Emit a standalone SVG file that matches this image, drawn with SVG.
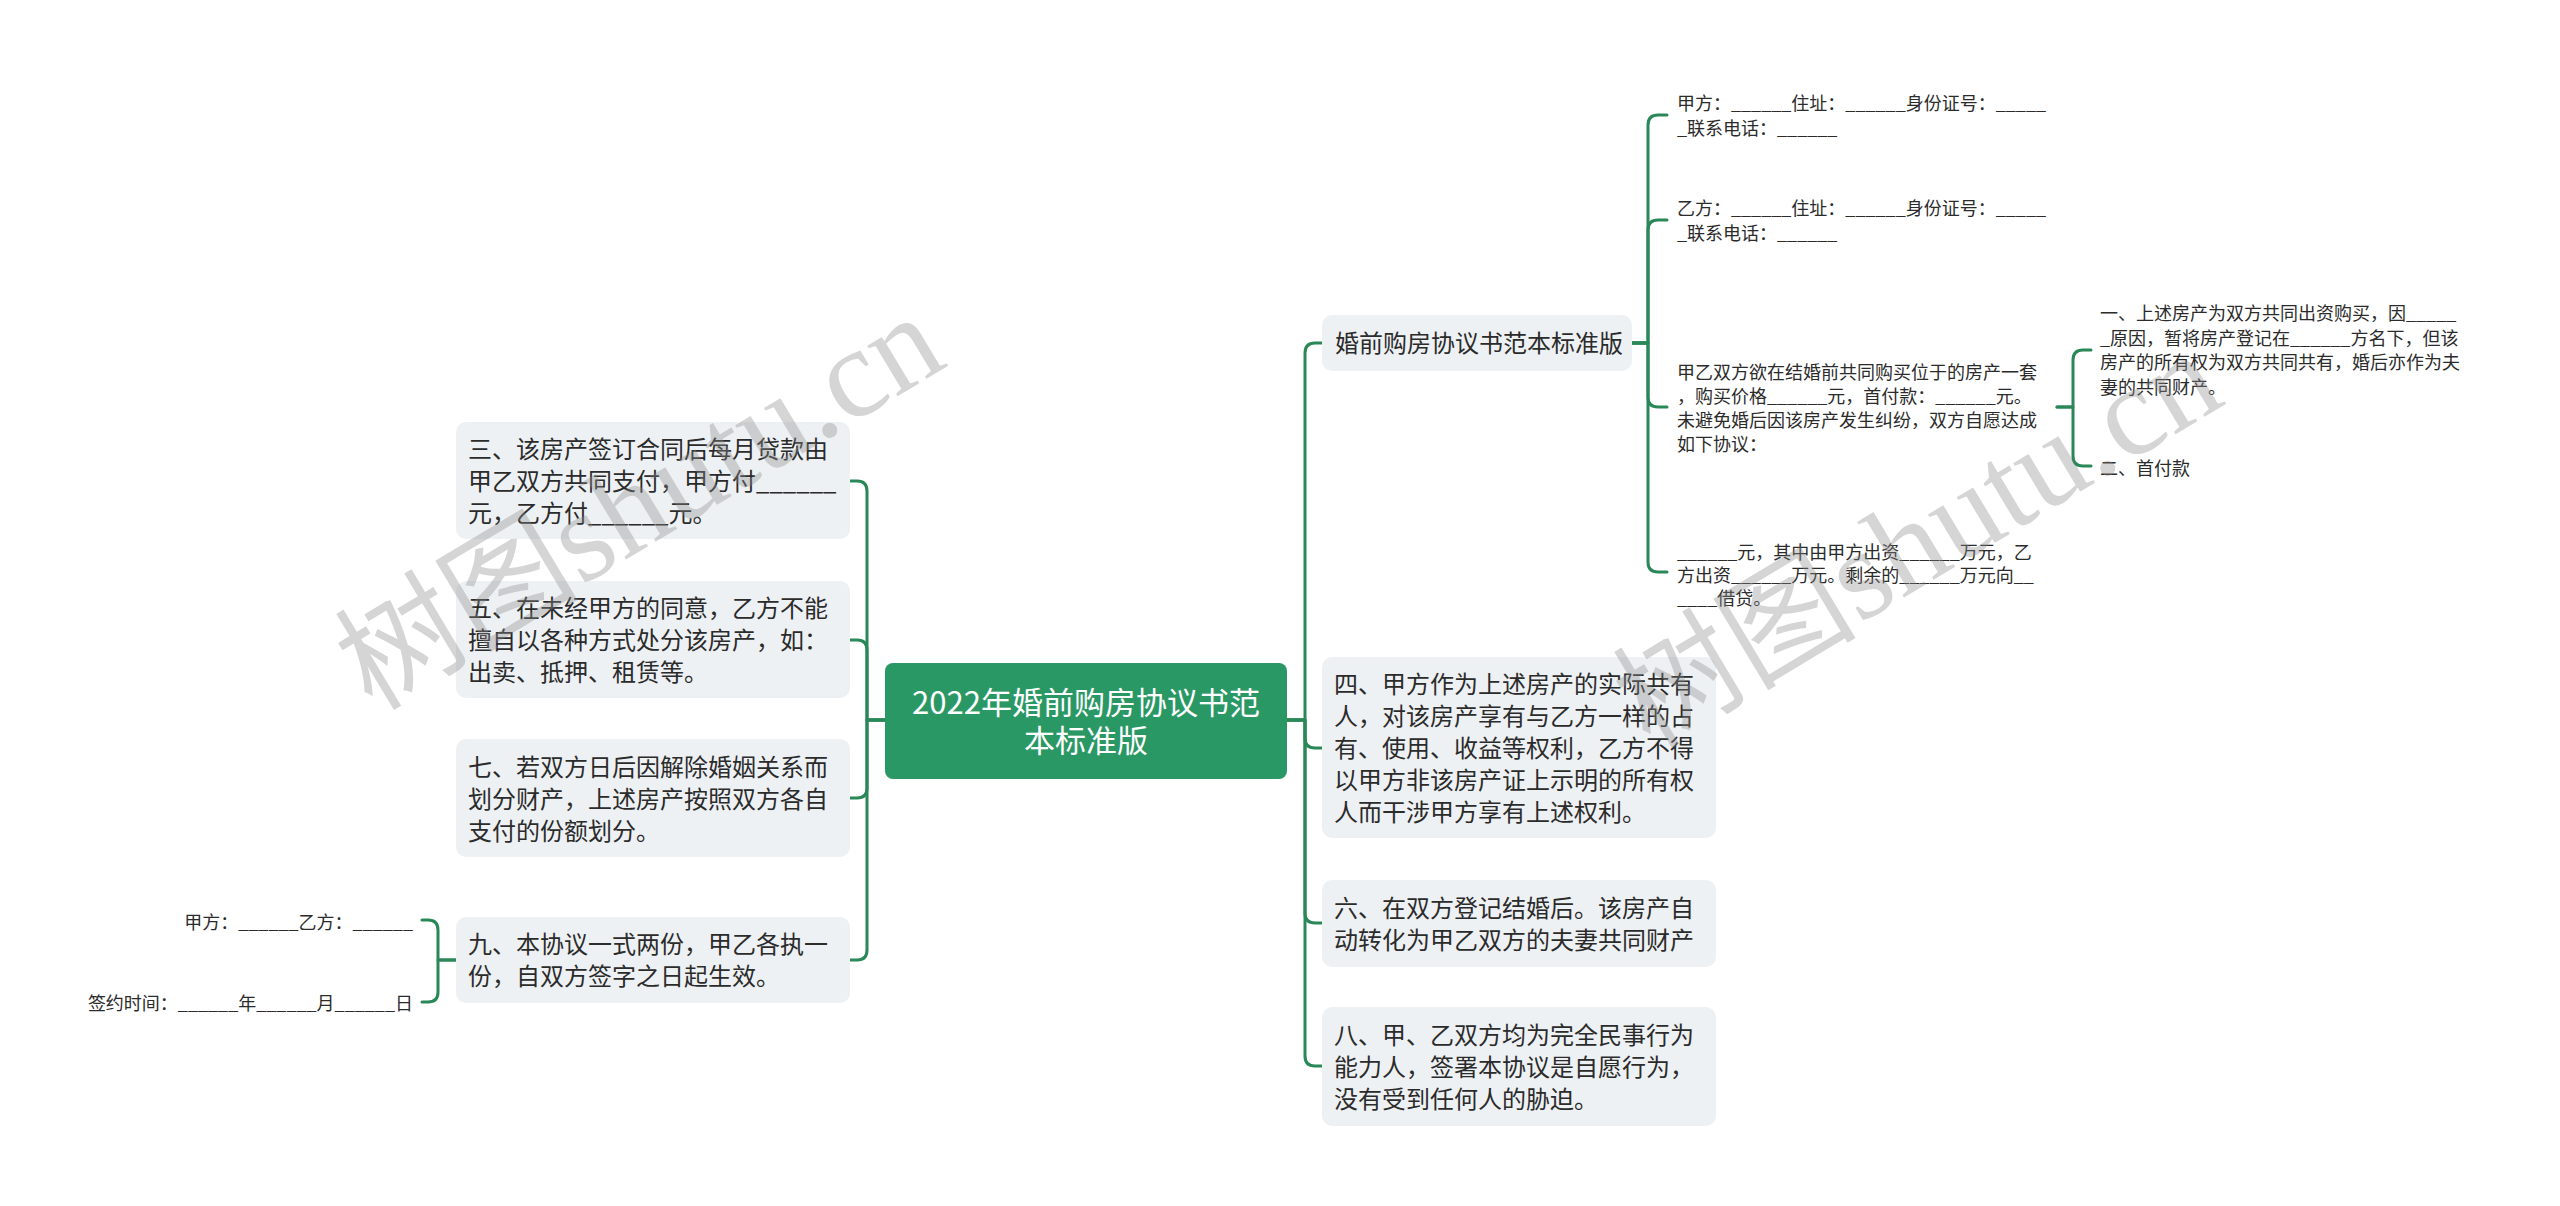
<svg xmlns="http://www.w3.org/2000/svg" width="2560" height="1206" viewBox="0 0 2560 1206">
<style>
.conn{fill:none;stroke:#2A8858;stroke-width:3;stroke-linejoin:round;stroke-linecap:round}
.box{fill:#EEF1F4}
.rootbox{fill:#2A9865}
.t{font-family:"Noto Sans CJK SC","Noto Sans",sans-serif;fill:#2B2B2B}
.t24{font-size:24px}
.t18{font-size:18px}
.rt{font-family:"Noto Sans CJK SC","Noto Sans",sans-serif;font-size:31px;fill:#FFFFFF;text-anchor:middle}
.wm{fill:#8A8A8A;fill-opacity:0.36}
.wmc{font-family:"Noto Sans CJK SC",sans-serif;font-size:122px}
.wml{font-family:"Liberation Serif",serif;font-size:128px}
</style>
<rect width="2560" height="1206" fill="#FFFFFF"/>
<g id="connectors">
<path class="conn" d="M885 720 H867 V491 Q867 481 857 481 H850"/>
<path class="conn" d="M885 720 H867 V650 Q867 640 857 640 H850"/>
<path class="conn" d="M885 720 H867 V788 Q867 798 857 798 H850"/>
<path class="conn" d="M885 720 H867 V950 Q867 960 857 960 H850"/>
<path class="conn" d="M1287 720 H1305 V353 Q1305 343 1315 343 H1322"/>
<path class="conn" d="M1287 720 H1305 V738 Q1305 748 1315 748 H1322"/>
<path class="conn" d="M1287 720 H1305 V913 Q1305 923 1315 923 H1322"/>
<path class="conn" d="M1287 720 H1305 V1056 Q1305 1066 1315 1066 H1322"/>
<path class="conn" d="M1632 343 H1648 V125 Q1648 115 1658 115 H1667"/>
<path class="conn" d="M1632 343 H1648 V230 Q1648 220 1658 220 H1667"/>
<path class="conn" d="M1632 343 H1648 V397 Q1648 407 1658 407 H1667"/>
<path class="conn" d="M1632 343 H1648 V562 Q1648 572 1658 572 H1667"/>
<path class="conn" d="M2057 407 H2073 V360 Q2073 350 2083 350 H2091"/>
<path class="conn" d="M2057 407 H2073 V456 Q2073 466 2083 466 H2091"/>
<path class="conn" d="M456 960 H438 V930 Q438 920 428 920 H422"/>
<path class="conn" d="M456 960 H438 V992 Q438 1002 428 1002 H422"/>
</g>
<g id="root">
<rect class="rootbox" x="885" y="663" width="402" height="116" rx="8"/>
<text class="rt" x="1086" y="714">2022年婚前购房协议书范</text>
<text class="rt" x="1086" y="752">本标准版</text>
</g>
<g id="n3">
<rect class="box" x="456" y="422" width="394" height="117" rx="10"/>
<text class="t t24" x="468" y="458">三、该房产签订合同后每月贷款由</text>
<text class="t t24" x="468" y="490">甲乙双方共同支付，甲方付______</text>
<text class="t t24" x="468" y="522">元，乙方付______元。</text>
</g>
<g id="n5">
<rect class="box" x="456" y="581" width="394" height="117" rx="10"/>
<text class="t t24" x="468" y="617">五、在未经甲方的同意，乙方不能</text>
<text class="t t24" x="468" y="649">擅自以各种方式处分该房产，如：</text>
<text class="t t24" x="468" y="681">出卖、抵押、租赁等。</text>
</g>
<g id="n7">
<rect class="box" x="456" y="739" width="394" height="118" rx="10"/>
<text class="t t24" x="468" y="776">七、若双方日后因解除婚姻关系而</text>
<text class="t t24" x="468" y="808">划分财产，上述房产按照双方各自</text>
<text class="t t24" x="468" y="840">支付的份额划分。</text>
</g>
<g id="n9">
<rect class="box" x="456" y="917" width="394" height="86" rx="10"/>
<text class="t t24" x="468" y="953">九、本协议一式两份，甲乙各执一</text>
<text class="t t24" x="468" y="985">份，自双方签字之日起生效。</text>
</g>
<g id="n9a">
<text class="t t18" x="413" y="929" text-anchor="end">甲方：______乙方：______</text>
</g>
<g id="n9b">
<text class="t t18" x="413" y="1010" text-anchor="end">签约时间：______年______月______日</text>
</g>
<g id="n1">
<rect class="box" x="1322" y="315" width="310" height="56" rx="10"/>
<text class="t t24" x="1335" y="352">婚前购房协议书范本标准版</text>
</g>
<g id="n1a">
<text class="t t18" x="1677" y="110">甲方：______住址：______身份证号：_____</text>
<text class="t t18" x="1677" y="135">_联系电话：______</text>
</g>
<g id="n1b">
<text class="t t18" x="1677" y="215">乙方：______住址：______身份证号：_____</text>
<text class="t t18" x="1677" y="240">_联系电话：______</text>
</g>
<g id="n1c">
<text class="t t18" x="1677" y="379">甲乙双方欲在结婚前共同购买位于的房产一套</text>
<text class="t t18" x="1677" y="403">，购买价格______元，首付款：______元。</text>
<text class="t t18" x="1677" y="427">未避免婚后因该房产发生纠纷，双方自愿达成</text>
<text class="t t18" x="1677" y="451">如下协议：</text>
</g>
<g id="n1c1">
<text class="t t18" x="2100" y="320">一、上述房产为双方共同出资购买，因_____</text>
<text class="t t18" x="2100" y="345">_原因，暂将房产登记在______方名下，但该</text>
<text class="t t18" x="2100" y="369">房产的所有权为双方共同共有，婚后亦作为夫</text>
<text class="t t18" x="2100" y="394">妻的共同财产。</text>
</g>
<g id="n1c2">
<text class="t t18" x="2100" y="475">二、首付款</text>
</g>
<g id="n1d">
<text class="t t18" x="1677" y="559">______元，其中由甲方出资______万元，乙</text>
<text class="t t18" x="1677" y="582">方出资______万元。剩余的______万元向__</text>
<text class="t t18" x="1677" y="605">____借贷。</text>
</g>
<g id="n4">
<rect class="box" x="1322" y="657" width="394" height="181" rx="10"/>
<text class="t t24" x="1334" y="693">四、甲方作为上述房产的实际共有</text>
<text class="t t24" x="1334" y="725">人，对该房产享有与乙方一样的占</text>
<text class="t t24" x="1334" y="757">有、使用、收益等权利，乙方不得</text>
<text class="t t24" x="1334" y="789">以甲方非该房产证上示明的所有权</text>
<text class="t t24" x="1334" y="821">人而干涉甲方享有上述权利。</text>
</g>
<g id="n6">
<rect class="box" x="1322" y="880" width="394" height="87" rx="10"/>
<text class="t t24" x="1334" y="917">六、在双方登记结婚后。该房产自</text>
<text class="t t24" x="1334" y="949">动转化为甲乙双方的夫妻共同财产</text>
</g>
<g id="n8">
<rect class="box" x="1322" y="1007" width="394" height="119" rx="10"/>
<text class="t t24" x="1334" y="1044">八、甲、乙双方均为完全民事行为</text>
<text class="t t24" x="1334" y="1076">能力人，签署本协议是自愿行为，</text>
<text class="t t24" x="1334" y="1108">没有受到任何人的胁迫。</text>
</g>
<g id="watermarks">
<text class="wm" x="372" y="712" transform="rotate(-31 372 712)"><tspan class="wmc">树图</tspan><tspan class="wml">shutu.cn</tspan></text>
<text class="wm" x="1650" y="750" transform="rotate(-31 1650 750)"><tspan class="wmc">树图</tspan><tspan class="wml">shutu.cn</tspan></text>
</g>
</svg>
